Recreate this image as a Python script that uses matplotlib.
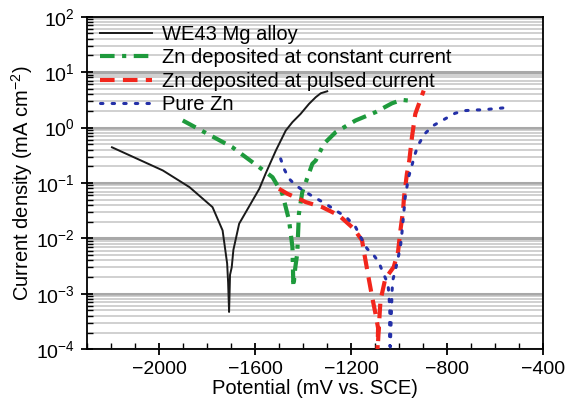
import numpy as np
import matplotlib
matplotlib.use("Agg")
import matplotlib.pyplot as plt
from matplotlib.ticker import LogLocator, MultipleLocator, FixedLocator, NullFormatter

plt.rcParams["font.family"] = ["Liberation Sans", "DejaVu Sans"]
plt.rcParams["mathtext.fontset"] = "custom"
plt.rcParams["mathtext.rm"] = "Liberation Sans"
plt.rcParams["mathtext.it"] = "Liberation Sans:italic"
plt.rcParams["mathtext.bf"] = "Liberation Sans:bold"

# Potentiodynamic polarisation curves: potential (mV vs. SCE) and current density (mA cm^-2)
we43_potential = [-2196, -1984, -1873, -1777, -1735, -1716, -1712, -1708, -1704,
                  -1697, -1690, -1666, -1610, -1582, -1555, -1513, -1472, -1444,
                  -1410, -1375, -1347, -1326, -1299]
we43_current = [0.44, 0.168, 0.084, 0.0366, 0.0139, 0.0035, 0.0016, 0.00047, 0.0022,
                0.0030, 0.0062, 0.0184, 0.0484, 0.0785, 0.150, 0.385, 0.88, 1.25,
                1.76, 2.67, 3.52, 4.15, 4.51]

const_potential = [-1901, -1694, -1583, -1527, -1486, -1458, -1444, -1440, -1432,
                   -1424, -1417, -1403, -1361, -1347, -1313, -1264, -1181, -1098,
                   -1029, -988, -960, -955]
const_current = [1.34, 0.44, 0.193, 0.127, 0.0638, 0.0211, 0.0070, 0.00133, 0.0030,
                 0.0053, 0.0278, 0.0680, 0.222, 0.254, 0.508, 0.822, 1.34, 1.89,
                 2.74, 3.16, 3.06, 2.85]

pulsed_potential = [-1500, -1465, -1417, -1389, -1320, -1250, -1188, -1154, -1147,
                    -1126, -1112, -1098, -1087, -1090, -1084, -1077, -1057, -1022,
                    -1004, -994, -983, -979, -967, -957, -946, -932, -897]
pulsed_current = [0.0785, 0.0638, 0.0519, 0.0452, 0.0366, 0.0259, 0.0149, 0.0092, 0.0061,
                  0.00188, 0.00088, 0.00044, 0.00024, 0.00008, 0.00025, 0.00076, 0.00188,
                  0.00304, 0.00568, 0.0139, 0.0319, 0.0555, 0.146, 0.254, 0.668,
                  1.76, 4.64]

purezn_potential = [-1493, -1479, -1458, -1430, -1389, -1354, -1306, -1264, -1220,
                    -1181, -1156, -1133, -1105, -1084, -1068, -1046, -1043, -1040,
                    -1038, -1039, -1039, -1040, -1036, -1029, -1026, -1015, -994,
                    -988, -981, -974, -960, -946, -935, -921, -893, -856, -807,
                    -766, -724, -676, -652, -611, -565]
purezn_current = [0.272, 0.180, 0.119, 0.0902, 0.0684, 0.0555, 0.0422, 0.0320, 0.0242,
                  0.0160, 0.00986, 0.00652, 0.00494, 0.00374, 0.00247, 0.00152, 0.00108,
                  0.00071, 0.00044, 0.00029, 0.00019, 0.00012, 0.00011, 0.00108, 0.00175,
                  0.00265, 0.00697, 0.0121, 0.0259, 0.0555, 0.127, 0.207, 0.313, 0.474,
                  0.769, 1.09, 1.44, 1.81, 2.02, 2.08, 2.08, 2.17, 2.26]

legend_labels = ["WE43 Mg alloy", "Zn deposited at constant current",
                 "Zn deposited at pulsed current", "Pure Zn"]
x_ticks = [-2000, -1600, -1200, -800, -400]

fig = plt.figure(figsize=(5.65, 4.07), dpi=100)
ax = fig.add_axes([0.154, 0.142, 0.807, 0.817])

ax.plot(we43_potential, we43_current, color="#1a1a1a", lw=1.4,
        label=legend_labels[0], zorder=3)
ax.plot(const_potential, const_current, color="#1e9a3c", lw=3.0,
        linestyle=(0, (3.5, 1.8, 1.0, 1.8)), label=legend_labels[1], zorder=3)
ax.plot(pulsed_potential, pulsed_current, color="#f2261c", lw=3.0,
        linestyle=(0, (3.5, 2.0)), label=legend_labels[2], zorder=4)
ax.plot(purezn_potential, purezn_current, color="#2430a8", lw=2.2,
        linestyle=(0, (0.8, 3.0)), dash_capstyle="round", label=legend_labels[3], zorder=4)

ax.set_yscale("log")
ax.set_xlim(-2300, -400)
ax.set_ylim(1e-4, 1e2)

ax.xaxis.set_major_locator(FixedLocator(x_ticks))
ax.xaxis.set_minor_locator(MultipleLocator(100))
ax.yaxis.set_major_locator(LogLocator(base=10, numticks=10))
ax.yaxis.set_minor_locator(LogLocator(base=10, subs=np.arange(2, 10), numticks=20))
ax.yaxis.set_minor_formatter(NullFormatter())

ax.tick_params(which="major", direction="inout", length=9, width=1.3, labelsize=14,
               top=False, right=False, pad=4)
ax.tick_params(which="minor", direction="in", length=4, width=1.0, top=False, right=False)

# horizontal grid on decades and sub-decades
ax.grid(True, which="major", axis="y", color="#a8a8a8", lw=2.2, zorder=0)
ax.grid(True, which="minor", axis="y", color="#c4c4c4", lw=1.1, zorder=0)
ax.grid(True, which="minor", axis="x", color="#ffffff", lw=0.8, linestyle=(0, (1, 1)), zorder=1)
ax.set_axisbelow(True)

for s in ax.spines.values():
    s.set_linewidth(1.3)

ax.set_xlabel("Potential (mV vs. SCE)", fontsize=14.5, labelpad=1)
ax.set_ylabel("Current density (mA cm$^{-2}$)", fontsize=14.5, labelpad=1)

ax.legend(loc="upper left", bbox_to_anchor=(0.028, 0.975), frameon=False,
          fontsize=14.5, handlelength=2.6, handletextpad=0.5, labelspacing=0.22,
          borderpad=0, borderaxespad=0)

fig.savefig("out.png", dpi=100)
